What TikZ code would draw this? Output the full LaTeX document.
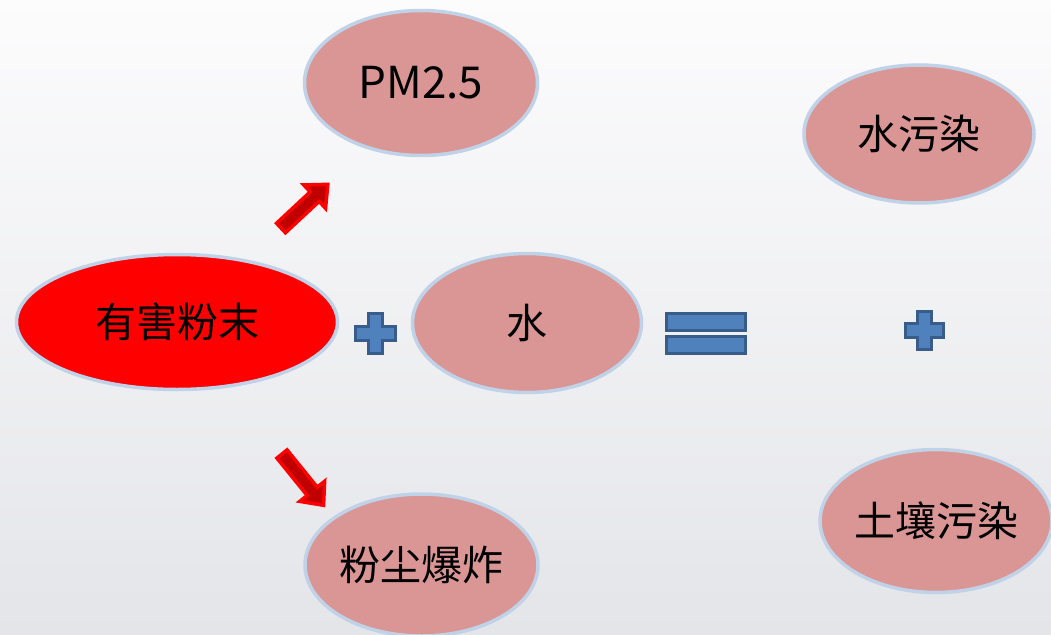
\documentclass[tikz,border=0pt]{standalone}
\usepackage{fontspec}
\setmainfont{Noto Sans CJK SC}
\usetikzlibrary{shapes.geometric}
\definecolor{bgtop}{HTML}{FCFCFD}
\definecolor{bgbot}{HTML}{E4E5E9}
\definecolor{pinkfill}{HTML}{D99694}
\definecolor{rimblue}{HTML}{BFD2E8}
\definecolor{darkred}{HTML}{C00000}
\definecolor{signfill}{HTML}{4F81BD}
\definecolor{signrim}{HTML}{385D8A}
\tikzset{
  bubble/.style={ellipse, draw=rimblue, line width=3.5pt, fill=pinkfill, inner sep=0pt,
    font=\fontsize{41}{48}\selectfont, text=black},
  redbubble/.style={bubble, fill=red},
  blockarrow/.style={draw=red, line width=3.5pt, fill=darkred, line join=miter},
  sign/.style={draw=signrim, line width=3pt, fill=signfill}
}
\newcommand\myblockarrow[4]{%
  \begin{scope}[shift={#1}, rotate=#2]
    \draw[blockarrow] (0,-6.5) -- (#3-18,-6.5) -- (#3-18,-16) -- (#3,0) -- (#3-18,16) -- (#3-18,6.5) -- (0,6.5) -- cycle;
    \coordinate (#4) at (#3,0);
  \end{scope}}
\newcommand\myplus[3]{%
  \begin{scope}[shift={#1}]
    \draw[sign] (-#2,-#3) -- (-#3,-#3) -- (-#3,-#2) -- (#3,-#2) -- (#3,-#3) -- (#2,-#3) -- (#2,#3) -- (#3,#3) -- (#3,#2) -- (-#3,#2) -- (-#3,#3) -- (-#2,#3) -- cycle;
  \end{scope}}
\begin{document}
\begin{tikzpicture}[x=1pt, y=-1pt]
  \shade[top color=bgtop, bottom color=bgbot] (0,0) rectangle (1051,634);
  \useasboundingbox (0,0) rectangle (1051,634);
  % nodes
  \node[redbubble, minimum width=321pt, minimum height=135pt] (harm) at (177,322) {有害粉末};
  \node[bubble, minimum width=233pt, minimum height=145pt, font=\fontsize{44}{50}\selectfont] (pm) at (421,83) {PM2.5};
  \node[bubble, minimum width=229pt, minimum height=139pt] (water) at (527,323) {水};
  \node[bubble, minimum width=230pt, minimum height=138pt] (wpol) at (919,134) {水污染};
  \node[bubble, minimum width=233pt, minimum height=142pt] (dust) at (421.5,565) {粉尘爆炸};
  \node[bubble, minimum width=228pt, minimum height=143pt] (soil) at (936,521) {土壤污染};
  % arrows
  \myblockarrow{(281,228)}{43}{64}{uptip}
  \myblockarrow{(282,454)}{-51}{66}{downtip}
  % plus signs
  \myplus{(375,333)}{20}{7}
  \myplus{(924,330)}{19}{7}
  % equals
  \draw[sign] (666,313) rectangle (745,330);
  \draw[sign] (666,336) rectangle (745,353);
\end{tikzpicture}
\end{document}
